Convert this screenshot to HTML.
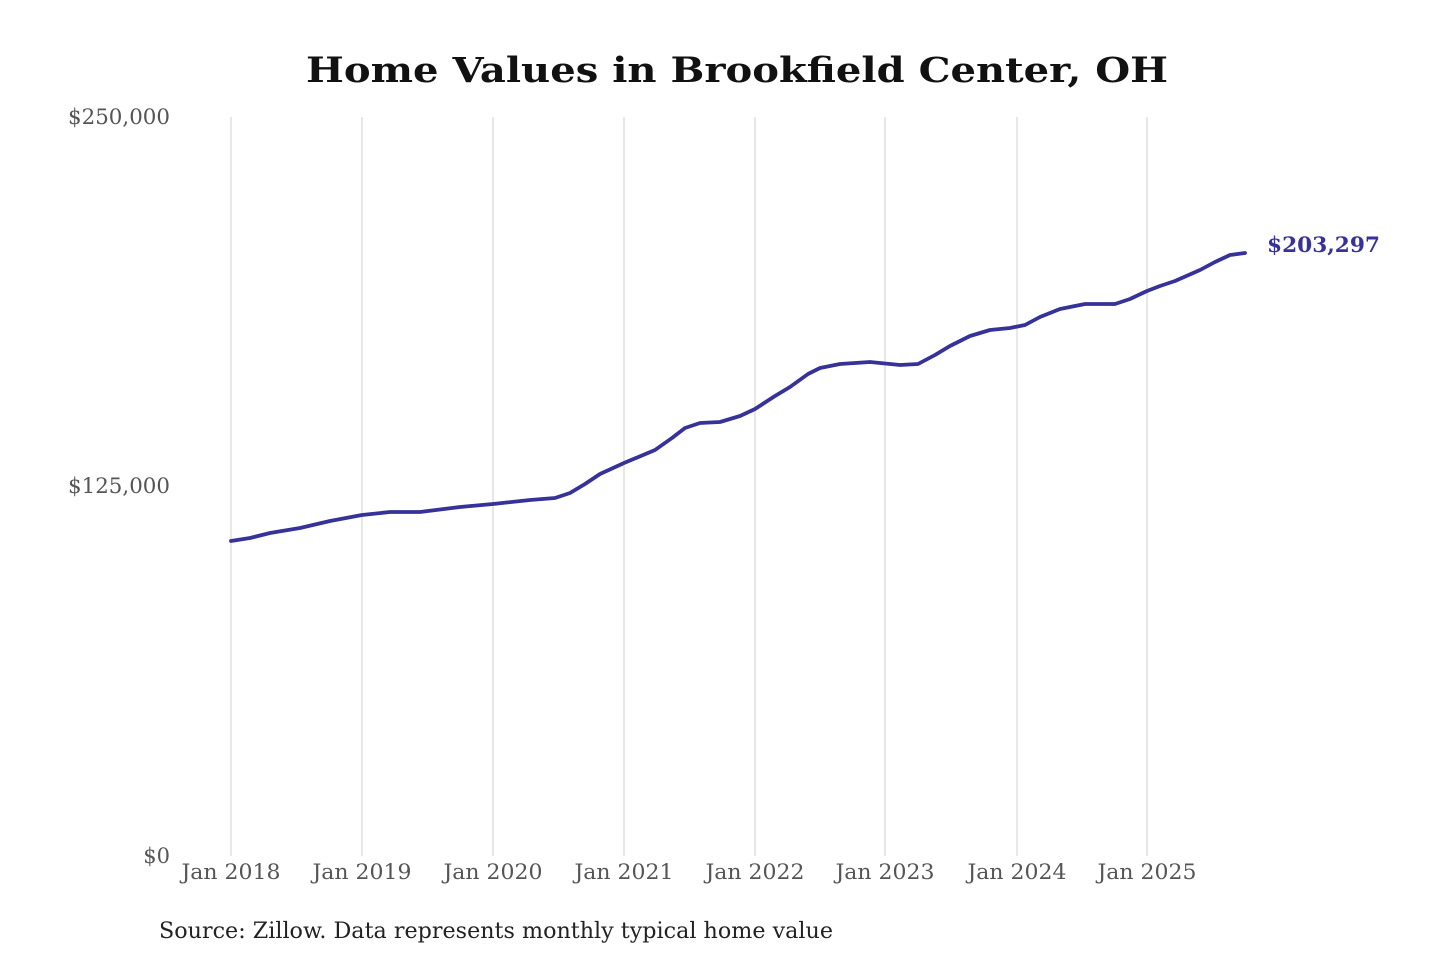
<!DOCTYPE html>
<html><head><meta charset="utf-8"><style>
html,body{margin:0;padding:0;background:#fff;}
svg{display:block}
text{font-family:"DejaVu Serif","Liberation Serif",serif;}
</style></head><body>
<svg width="1440" height="960" viewBox="0 0 1440 960" xmlns="http://www.w3.org/2000/svg">
<rect width="1440" height="960" fill="#fff"/>
<text x="737" y="82" text-anchor="middle" font-size="35" font-weight="bold" fill="#111" textLength="862" lengthAdjust="spacingAndGlyphs">Home Values in Brookfield Center, OH</text>
<g stroke="#cfcfcf" stroke-width="1">
<line x1="231" y1="117" x2="231" y2="856"/>
<line x1="362" y1="117" x2="362" y2="856"/>
<line x1="493" y1="117" x2="493" y2="856"/>
<line x1="624" y1="117" x2="624" y2="856"/>
<line x1="755" y1="117" x2="755" y2="856"/>
<line x1="885" y1="117" x2="885" y2="856"/>
<line x1="1017" y1="117" x2="1017" y2="856"/>
<line x1="1147" y1="117" x2="1147" y2="856"/>
</g>
<g font-size="21" fill="#555" text-anchor="end">
<text x="170" y="124" textLength="102" lengthAdjust="spacingAndGlyphs">$250,000</text>
<text x="170" y="493" textLength="102" lengthAdjust="spacingAndGlyphs">$125,000</text>
<text x="170" y="863">$0</text>
</g>
<g font-size="21" fill="#555" text-anchor="middle">
<text x="231" y="879" textLength="99" lengthAdjust="spacingAndGlyphs">Jan 2018</text>
<text x="362" y="879" textLength="99" lengthAdjust="spacingAndGlyphs">Jan 2019</text>
<text x="493" y="879" textLength="99" lengthAdjust="spacingAndGlyphs">Jan 2020</text>
<text x="624" y="879" textLength="99" lengthAdjust="spacingAndGlyphs">Jan 2021</text>
<text x="755" y="879" textLength="99" lengthAdjust="spacingAndGlyphs">Jan 2022</text>
<text x="885" y="879" textLength="99" lengthAdjust="spacingAndGlyphs">Jan 2023</text>
<text x="1017" y="879" textLength="99" lengthAdjust="spacingAndGlyphs">Jan 2024</text>
<text x="1147" y="879" textLength="99" lengthAdjust="spacingAndGlyphs">Jan 2025</text>
</g>
<polyline fill="none" stroke="#36329a" stroke-width="3.8" stroke-linejoin="round" stroke-linecap="round"
points="231,541 250,538 270,533 300,528 330,521 362,515 390,512 420,512 460,507 493,504 530,500 555,498 570,493 585,484 600,474 624,463 655,450 672,438 685,428 700,423 720,422 740,416 755,409 775,396 790,387 808,374 820,368 840,364 870,362 900,365 918,364 935,355 950,346 970,336 990,330 1010,328 1025,325 1040,317 1060,309 1085,304 1115,304 1130,299 1147,291 1160,286 1175,281 1200,270 1215,262 1230,255 1245,253"/>
<text x="1267" y="252" font-size="21" font-weight="bold" fill="#36329a" textLength="113" lengthAdjust="spacingAndGlyphs">$203,297</text>
<text x="159" y="938" font-size="22" fill="#222" textLength="674" lengthAdjust="spacingAndGlyphs">Source: Zillow. Data represents monthly typical home value</text>
</svg>
</body></html>
